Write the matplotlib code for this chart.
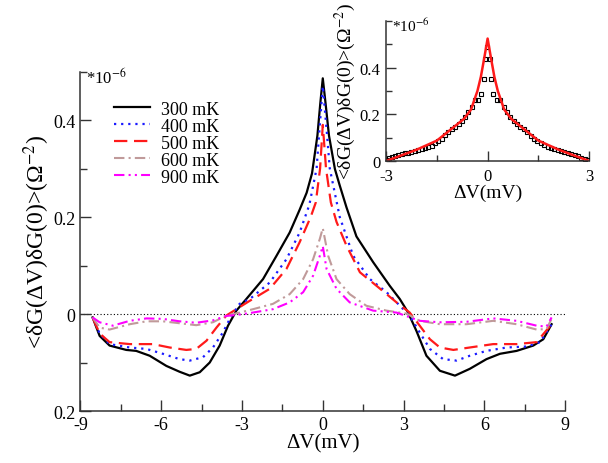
import matplotlib
matplotlib.use("Agg")
import matplotlib.pyplot as plt
from matplotlib.ticker import FixedLocator

plt.rcParams["font.family"] = ["Liberation Serif", "DejaVu Serif"]
plt.rcParams["mathtext.fontset"] = "stix"

# main panel: <dG(dV)dG(0)> in units of 1e-6 Ohm^-2
x300 = [-8.55, -8.29, -7.92, -7.3, -6.93, -6.43, -5.81, -5.32, -4.94, -4.57, -4.2, -3.83,
        -3.52, -3.21, -2.84, -2.22, -1.72, -1.23, -0.86, -0.6, -0.4, -0.2, -0.09, 0.0,
        0.1, 0.23, 0.45, 0.63, 0.88, 1.25, 1.87, 2.49, 2.86, 3.16, 3.48, 3.85, 4.35,
        4.91, 5.46, 6.08, 6.58, 7.2, 7.82, 8.19, 8.5]
y300 = [-0.007, -0.045, -0.065, -0.074, -0.076, -0.086, -0.107, -0.119, -0.127, -0.12, -0.1, -0.065,
        -0.024, 0.007, 0.031, 0.072, 0.12, 0.168, 0.215, 0.25, 0.29, 0.368, 0.436, 0.486,
        0.436, 0.368, 0.299, 0.265, 0.22, 0.16, 0.107, 0.058, 0.031, 0.004, -0.035, -0.086, -0.117,
        -0.127, -0.113, -0.093, -0.082, -0.076, -0.065, -0.052, -0.021]

x400 = [-8.55, -8.29, -7.92, -7.17, -6.55, -5.94, -5.32, -4.94, -4.45, -4.08, -3.71, -3.39,
        -3.09, -2.71, -1.97, -1.35, -0.86, -0.5, -0.23, -0.14, 0.0, 0.16, 0.26, 0.63,
        1.13, 1.75, 2.37, 2.99, 3.3, 3.6, 3.98, 4.47, 4.97, 5.46, 6.08, 6.83, 7.57, 8.07, 8.5]
y400 = [-0.007, -0.04, -0.062, -0.069, -0.072, -0.082, -0.093, -0.096, -0.089, -0.069, -0.038, -0.003,
        0.021, 0.031, 0.065, 0.113, 0.168, 0.225, 0.30, 0.368, 0.47, 0.368, 0.30, 0.2,
        0.12, 0.072, 0.045, 0.01, -0.01, -0.038, -0.072, -0.093, -0.096, -0.086, -0.076, -0.069, -0.067, -0.058, -0.021]

x500 = [-8.55, -8.29, -7.92, -7.17, -6.31, -5.69, -5.07, -4.7, -4.32, -3.95, -3.58, -3.21,
        -2.75, -1.97, -1.35, -0.86, -0.45, -0.26, -0.1, 0.0, 0.12, 0.3, 0.51, 0.88,
        1.38, 2.0, 2.74, 3.23, 3.6, 3.98, 4.35, 4.85, 5.46, 6.33, 7.2, 7.94, 8.5]
y500 = [-0.007, -0.04, -0.058, -0.062, -0.062, -0.069, -0.074, -0.072, -0.055, -0.028, -0.003, 0.01,
        0.026, 0.052, 0.093, 0.148, 0.2, 0.23, 0.30, 0.39, 0.30, 0.23, 0.19, 0.141,
        0.086, 0.058, 0.024, 0.003, -0.024, -0.052, -0.069, -0.074, -0.069, -0.062, -0.062, -0.058, -0.021]

x600 = [-8.55, -8.29, -7.92, -7.17, -6.55, -5.94, -5.32, -4.7, -4.08, -3.58, -3.09, -2.59,
        -1.85, -1.23, -0.73, -0.36, -0.11, 0.0, 0.2, 0.51, 1.0, 1.62, 2.37, 3.11,
        3.6, 4.35, 5.34, 6.33, 7.2, 7.94, 8.31, 8.5]
y600 = [-0.007, -0.028, -0.032, -0.021, -0.015, -0.015, -0.019, -0.023, -0.017, -0.003, 0.003, 0.01,
        0.021, 0.041, 0.072, 0.113, 0.155, 0.177, 0.12, 0.072, 0.041, 0.017, 0.007, 0.001,
        -0.014, -0.021, -0.021, -0.014, -0.021, -0.032, -0.031, -0.01]

x900 = [-8.55, -8.29, -7.8, -7.17, -6.55, -5.94, -5.32, -4.7, -4.08, -3.58, -3.09, -2.71,
        -1.85, -1.23, -0.73, -0.36, -0.11, 0.0, 0.14, 0.51, 1.0, 1.87, 2.74, 3.6,
        4.35, 5.34, 6.33, 7.2, 7.94, 8.31, 8.5]
y900 = [-0.007, -0.017, -0.024, -0.014, -0.009, -0.01, -0.015, -0.018, -0.013, -0.004, -0.001, 0.002,
        0.01, 0.024, 0.045, 0.079, 0.12, 0.14, 0.093, 0.052, 0.024, 0.007, 0.003, -0.014,
        -0.017, -0.016, -0.009, -0.014, -0.024, -0.026, -0.007]

# inset: measured points and fit
xsq = [-2.98, -2.9, -2.83, -2.73, -2.64, -2.54, -2.44, -2.35, -2.25, -2.15, -2.05, -1.95,
       -1.85, -1.75, -1.65, -1.55, -1.46, -1.36, -1.26, -1.16, -1.06, -0.96, -0.86, -0.76,
       -0.67, -0.57, -0.47, -0.37, -0.27, -0.19, -0.12, -0.07, -0.02,
       0.07, 0.1, 0.17, 0.27, 0.37, 0.47, 0.57, 0.67, 0.77, 0.87, 0.97, 1.07, 1.17, 1.27,
       1.37, 1.47, 1.57, 1.67, 1.77, 1.87, 1.97, 2.07, 2.17, 2.27, 2.37, 2.47, 2.57, 2.67,
       2.77, 2.87, 2.97]
ysq = [0.006, 0.011, 0.016, 0.021, 0.026, 0.03, 0.033, 0.036, 0.04, 0.043, 0.047, 0.05,
       0.054, 0.06, 0.066, 0.076, 0.084, 0.094, 0.109, 0.123, 0.137, 0.145, 0.159, 0.173,
       0.188, 0.209, 0.23, 0.262, 0.262, 0.288, 0.352, 0.435, 0.488,
       0.435, 0.352, 0.288, 0.262, 0.262, 0.232, 0.21, 0.19, 0.173, 0.158, 0.145, 0.135, 0.122, 0.108,
       0.095, 0.085, 0.076, 0.068, 0.06, 0.054, 0.049, 0.045, 0.041, 0.037, 0.033, 0.028, 0.024, 0.019,
       0.014, 0.01, 0.005]
xfit = [-3.0, -2.6, -2.1, -1.5, -1.0, -0.7, -0.49, -0.3, -0.2, -0.1, 0.0,
        0.1, 0.2, 0.3, 0.49, 0.7, 1.0, 1.5, 2.1, 2.6, 3.0]
yfit = [0.0, 0.021, 0.048, 0.087, 0.145, 0.18, 0.22, 0.30, 0.36, 0.44, 0.524,
        0.44, 0.36, 0.30, 0.22, 0.18, 0.145, 0.087, 0.048, 0.021, 0.0]

labels = ["300 mK", "400 mK", "500 mK", "600 mK", "900 mK"]
main_xticks = [-9, -6, -3, 0, 3, 6, 9]
main_yticks = [-0.2, 0, 0.2, 0.4]
main_yticklabels = ["0.2", "0", "0.2", "0.4"]   # the original drops the minus sign
ins_xticks = [-3, 0, 3]
ins_yticks = [0, 0.2, 0.4]

ylab = "<δG(ΔV)δG(0)>(Ω$^{-2}$)"

fig = plt.figure(figsize=(6.08, 4.64), dpi=100)
ax = fig.add_axes([0.1324, 0.112, 0.797, 0.7317])

ax.axhline(0, color="black", lw=0.8, ls=(0, (1, 2)), zorder=1)
ax.plot(x300, y300, color="black", lw=1.6, label=labels[0])
ax.plot(x400, y400, color="#1a1aff", lw=1.6, ls=(0, (1, 2.2)), label=labels[1])
ax.plot(x500, y500, color="#ff1a1a", lw=1.6, ls=(0, (6, 3)), label=labels[2])
ax.plot(x600, y600, color="#c09a9a", lw=1.5, ls=(0, (5, 2, 1, 2)), label=labels[3])
ax.plot(x900, y900, color="#ff00ff", lw=1.5, ls=(0, (5, 2, 1, 2, 1, 2)), label=labels[4])

ax.set_xlim(-9, 9)
ax.set_ylim(-0.2, 0.5)
ax.xaxis.set_major_locator(FixedLocator(main_xticks))
ax.xaxis.set_minor_locator(FixedLocator([-7.5, -4.5, -1.5, 1.5, 4.5, 7.5]))
ax.yaxis.set_major_locator(FixedLocator(main_yticks))
ax.yaxis.set_minor_locator(FixedLocator([-0.1, 0.1, 0.3, 0.5]))
ax.set_yticklabels(main_yticklabels)
ax.set_xticklabels([str(t) for t in main_xticks])
ax.tick_params(which="both", direction="in", labelsize=13, width=1, color="#333333")
ax.tick_params(which="major", length=8)
ax.tick_params(which="minor", length=5)
for s in ["top", "right"]:
    ax.spines[s].set_visible(False)
for s in ["left", "bottom"]:
    ax.spines[s].set_linewidth(1.1)
    ax.spines[s].set_color("#333333")
ax.set_xlabel("ΔV(mV)", fontsize=15, labelpad=0)
ax.set_ylabel(ylab, fontsize=17, labelpad=1)
ax.text(0.012, 0.985, "*10$^{-6}$", transform=ax.transAxes, fontsize=12, va="center", ha="left")
ax.legend(loc="upper left", bbox_to_anchor=(0.055, 0.935), frameon=False, fontsize=13,
          handlelength=2.0, labelspacing=0.0, borderaxespad=0, handletextpad=0.6)

# inset
ins = fig.add_axes([0.635, 0.651, 0.334, 0.302])
ins.plot(xsq, ysq, ls="none", marker="s", ms=3.5, mfc="none", mec="black", mew=0.8)
ins.plot(xfit, yfit, color="#ff1a1a", lw=1.8)
ins.set_xlim(-3, 3)
ins.set_ylim(0, 0.6)
ins.xaxis.set_major_locator(FixedLocator(ins_xticks))
ins.xaxis.set_minor_locator(FixedLocator([-1.5, 1.5]))
ins.yaxis.set_major_locator(FixedLocator(ins_yticks))
ins.yaxis.set_minor_locator(FixedLocator([0.1, 0.3, 0.5, 0.6]))
ins.set_yticklabels(["0", "0.2", "0.4"])
ins.set_xticklabels([str(t) for t in ins_xticks])
ins.tick_params(which="both", direction="in", labelsize=12, width=1, color="#333333")
ins.tick_params(axis="y", pad=4)
ins.tick_params(axis="x", pad=5)
ins.tick_params(which="major", length=7)
ins.tick_params(which="minor", length=4)
for s in ["top", "right"]:
    ins.spines[s].set_visible(False)
for s in ["left", "bottom"]:
    ins.spines[s].set_linewidth(1.1)
    ins.spines[s].set_color("#333333")
ins.set_xlabel("ΔV(mV)", fontsize=14, labelpad=0)
ins.set_ylabel(ylab, fontsize=14, labelpad=1)
ins.text(0.03, 0.97, "*10$^{-6}$", transform=ins.transAxes, fontsize=11, va="center", ha="left")

fig.savefig("out.png", dpi=100)
